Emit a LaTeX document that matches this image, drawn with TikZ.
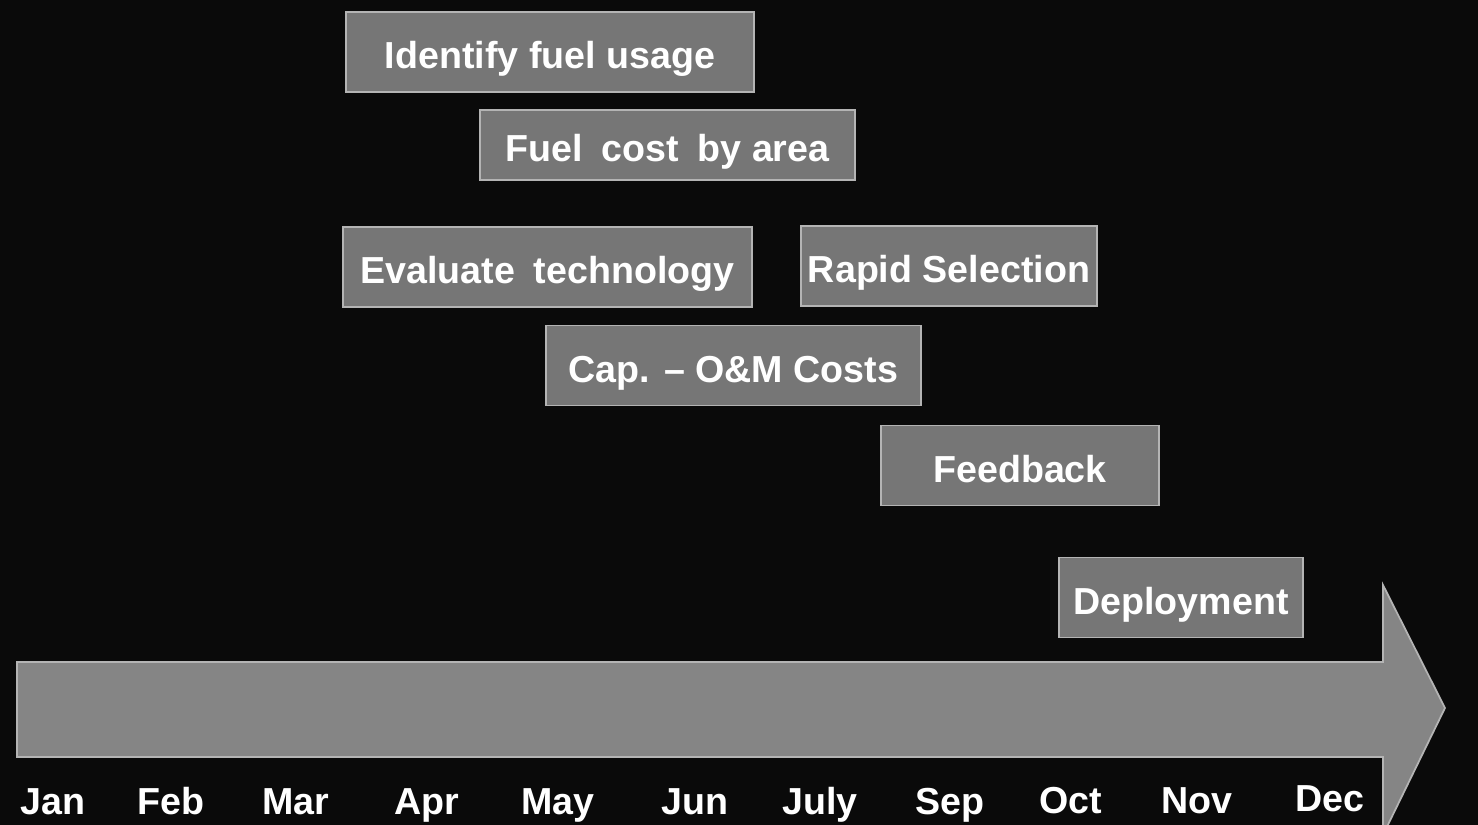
\documentclass[tikz,border=0pt]{standalone}
\usepackage{fontspec}
\setmainfont{Liberation Sans}
\definecolor{boxgray}{HTML}{767676}
\definecolor{arrowgray}{HTML}{858585}
\definecolor{edgegray}{HTML}{B4B4B4}
\definecolor{night}{HTML}{0A0A0A}
\begin{document}
\begin{tikzpicture}
	[	x=0.1mm, y=-0.1mm,
	task/.style={rectangle, draw=edgegray, fill=boxgray, line width=0.5pt, inner sep=0pt,
		text=white, font=\fontsize{10.7}{12}\selectfont\bfseries, minimum height=0.8cm,
		text height=9.4pt, text depth=0pt},
	month/.style={draw=none, fill=none, text=white, inner sep=0pt, anchor=base,
		font=\fontsize{10.7}{12}\selectfont\bfseries}
	]
	\useasboundingbox (0,0) rectangle (1478,825);
	\fill[night] (0,0) rectangle (1478,825);
	\clip (0,0) rectangle (1478,825);

	% time line arrow
	\fill[arrowgray, draw=edgegray, line width=0.5pt] (17,662) -- (1383,662) -- (1383,585) -- (1445,708)
		-- (1383,835) -- (1383,757) -- (17,757) -- cycle;

	\node[task, minimum width=4.08cm] (identify) at (550,52){Identify fuel usage};
	\node[task, minimum width=3.75cm, minimum height=0.7cm] (cost) at (667.5,145){Fuel\enspace cost\enspace by area};
	\node[task, minimum width=4.09cm] (evaluate) at (547.5,267){Evaluate\enspace technology};
	\node[task, minimum width=2.96cm] (rapid) at (949,266){Rapid Selection};
	\node[task, minimum width=3.75cm] (capom) at (733.5,365.5){Cap. -- O\&M Costs};
	\node[task, minimum width=2.78cm] (feedback) at (1020,465.5){Feedback};
	\node[task, minimum width=2.44cm] (deploy) at (1181,597.5){Deployment};

\node[month] (jan) at (53,815){Jan};
\node[month] (feb) at (171,815){Feb};
\node[month] (mar) at (296,815){Mar};
\node[month] (apr) at (427,815){Apr};
\node[month] (may) at (558,815){May};
\node[month] (jun) at (695,815){Jun};
\node[month] (jul) at (820,815){July};
\node[month] (sep) at (950,815){Sep};
\node[month] (oct) at (1071,814){Oct};
\node[month] (nov) at (1197,814){Nov};
\node[month] (dec) at (1330,812){Dec};
\end{tikzpicture}
\end{document}
